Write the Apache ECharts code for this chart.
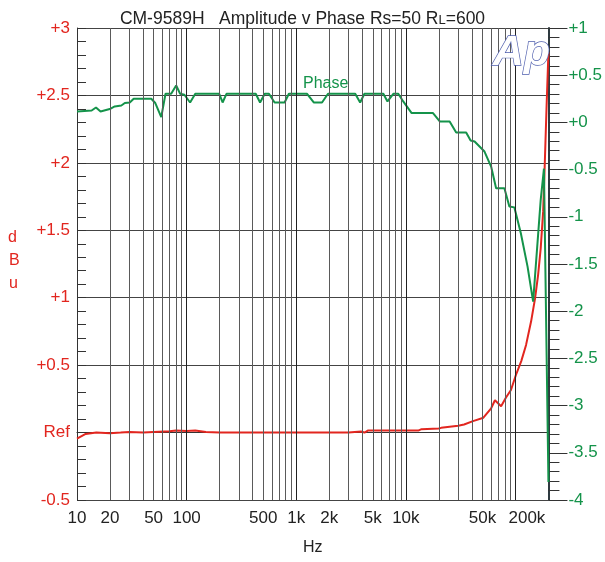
<!DOCTYPE html>
<html><head><meta charset="utf-8">
<script src="https://cdn.jsdelivr.net/npm/echarts@6/dist/echarts.min.js"></script>
<style>html,body{margin:0;padding:0;background:#fff}#c{width:605px;height:562px}</style>
</head><body><div id="c"></div>
<script>
// Amplitude (dBu, left axis)
const ampFreq = [10,12,15,20,25,30,40,50,70,80,100,120,150,200,300,500,1000,2000,3000,3900,4200,4500,6000,8000,10000,13000,13900,20000,21000,30000,34000,41000,51000,60000,65000,74000,82000,91000,101000,113000,125000,139000,151000,161000,170000,179000,185000,192000,200000];
const ampDb = [-0.045,-0.01,0,-0.005,0,0.005,0,0.005,0.01,0.015,0.012,0.015,0.005,0,0,0,0,0,0,0.008,0,0.015,0.015,0.015,0.015,0.015,0.025,0.03,0.035,0.05,0.06,0.085,0.11,0.18,0.24,0.195,0.26,0.316,0.427,0.53,0.65,0.825,0.995,1.17,1.366,1.64,1.98,2.4,2.82];
// Phase (right axis)
const phaseFreq = [10,13.6,14.9,16.4,19.9,22.1,25.4,27.3,30.3,32.9,47.6,51.8,58.7,64.2,72.3,80.3,87.3,95.5,107.6,120,198.5,213,231,427,468,516,564,635,783,857,1256,1445,1719,1950,3453,3830,4190,6235,6800,7690,8530,9470,11300,17700,20400,25100,28800,35500,39000,42400,52200,60000,66600,79300,88000,97700,112000,129000,145000,170000,182000,200000];
const phaseVal = [0.116,0.126,0.158,0.116,0.141,0.169,0.179,0.205,0.211,0.25,0.25,0.205,0.056,0.303,0.303,0.391,0.303,0.293,0.211,0.303,0.303,0.211,0.303,0.303,0.211,0.303,0.303,0.211,0.211,0.303,0.303,0.211,0.211,0.303,0.303,0.211,0.303,0.303,0.222,0.303,0.303,0.222,0.099,0.099,0.01,0.01,-0.107,-0.107,-0.192,-0.203,-0.309,-0.468,-0.697,-0.697,-0.89,-0.9,-1.174,-1.528,-1.899,-0.821,-0.49,-3.81];
// Tick labels
const xTickValues = [10,20,50,100,500,1000,2000,5000,10000,50000,200000];
const xTickLabels = ['10','20','50','100','500','1k','2k','5k','10k','50k','200k'];

const RED = '#e2261f', GREEN = '#14934a';
const gridLines = [];
[10,100,1000,10000,100000].forEach(d => {
  for (let m = 1; m <= 9; m++) {
    const v = d * m;
    if (v > 10 && v < 200000) gridLines.push({xAxis: v, lineStyle: {color: m === 1 ? '#222' : '#5a5a5a', width: 1, type: 'solid'}});
  }
});

const chart = echarts.init(document.getElementById('c'), null, {renderer: 'canvas'});
const FONT = 'Liberation Sans';
chart.setOption({
  animation: false,
  backgroundColor: '#fff',
  title: {
    text: 'CM-9589H   Amplitude v Phase Rs=50 R{s|L}=600',
    left: 'center', top: 5,
    textStyle: {fontFamily: FONT, fontSize: 17.5, fontWeight: 'normal', color: '#222',
      rich: {s: {fontFamily: FONT, fontSize: 13, color: '#222', padding: [3,0,0,0]}}}
  },
  grid: {left: 77, right: 54, top: 28, bottom: 62},
  xAxis: {
    type: 'log', logBase: 10, min: 10, max: 200000,
    name: 'Hz', nameLocation: 'middle', nameGap: 40,
    nameTextStyle: {fontFamily: FONT, fontSize: 16, color: '#222'},
    axisLine: {show: true, lineStyle: {color: '#333', width: 1}},
    axisTick: {show: false},
    minorTick: {show: false},
    splitLine: {show: false},
    axisLabel: {
      customValues: xTickValues, margin: 10,
      fontFamily: FONT, fontSize: 17, color: '#222',
      formatter: v => {
        const i = xTickValues.findIndex(t => Math.abs(t - v) / t < 1e-6);
        const s = i >= 0 ? xTickLabels[i] : '';
        return v > 150000 ? '{last|' + s + '}' : s;
      },
      rich: {last: {fontFamily: FONT, fontSize: 17, color: '#222', padding: [0, 43, 0, 0]}}
    }
  },
  yAxis: [{
    type: 'value', min: -0.5, max: 3, interval: 0.5, position: 'left',
    axisLine: {show: true, lineStyle: {color: '#333', width: 1}},
    axisTick: {show: true, inside: true, length: 9, lineStyle: {color: '#333'}},
    minorTick: {show: true, splitNumber: 5, length: 9, lineStyle: {color: '#333'}},
    splitLine: {show: true, lineStyle: {color: '#444', width: 1}},
    axisLabel: {
      margin: 7, fontFamily: FONT, fontSize: 17, color: RED,
      formatter: v => v === 0 ? 'Ref' : (v > 0 ? '+' + v : String(v))
    }
  }, {
    type: 'value', min: -4, max: 1, interval: 0.5, position: 'right',
    axisLine: {show: true, lineStyle: {color: '#2e3a40', width: 2}},
    axisTick: {show: true, inside: false, length: 19, lineStyle: {color: '#333'}},
    minorTick: {show: true, splitNumber: 5, length: 11, lineStyle: {color: '#333'}},
    splitLine: {show: false},
    axisLabel: {
      margin: 20, fontFamily: FONT, fontSize: 17, color: GREEN,
      formatter: v => v >= 0 ? '+' + v : String(v)
    }
  }],
  series: [{
    name: 'grid', type: 'line', data: [], xAxisIndex: 0, yAxisIndex: 0, z: 1, silent: true,
    markLine: {silent: true, symbol: ['none','none'], label: {show: false}, animation: false, data: gridLines}
  }, {
    name: 'Amplitude', type: 'line', xAxisIndex: 0, yAxisIndex: 0, z: 3,
    data: ampFreq.map((f, i) => [f, ampDb[i]]),
    showSymbol: false, lineStyle: {color: RED, width: 2}, itemStyle: {color: RED}
  }, {
    name: 'Phase', type: 'line', xAxisIndex: 0, yAxisIndex: 1, z: 4,
    data: phaseFreq.map((f, i) => [f, phaseVal[i]]),
    showSymbol: false, lineStyle: {color: GREEN, width: 2}, itemStyle: {color: GREEN}
  }],
  graphic: [
    {type: 'text', left: 8, top: 230, style: {text: 'd', fontFamily: FONT, fontSize: 16, fill: RED}},
    {type: 'text', left: 9, top: 253, style: {text: 'B', fontFamily: FONT, fontSize: 16, fill: RED}},
    {type: 'text', left: 9, top: 276, style: {text: 'u', fontFamily: FONT, fontSize: 16, fill: RED}},
    {type: 'text', left: 303, top: 76, z: 10, style: {text: 'Phase', fontFamily: FONT, fontSize: 16, fill: GREEN}},
    {type: 'text', left: 492, top: 31, z: 10, style: {text: 'Ap', fontFamily: FONT, fontSize: 43, fontStyle: 'italic', fontWeight: 'bold', fill: '#fff', stroke: '#4f5fae', lineWidth: 1.4}}
  ]
});
</script></body></html>
